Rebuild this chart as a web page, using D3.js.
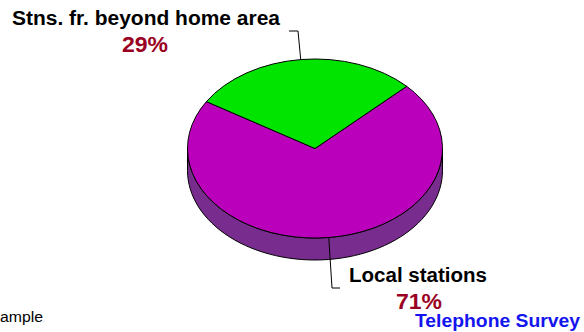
<!DOCTYPE html>
<html>
<head>
<meta charset="utf-8">
<script src="https://cdn.jsdelivr.net/npm/d3@7"></script>
<style>
  html, body { margin: 0; padding: 0; background: #fff; }
  svg { display: block; font-family: "Liberation Sans", Arial, sans-serif; }
</style>
</head>
<body>
<svg id="chart" width="584" height="332"></svg>
<script>
// Share of listening by station origin
const categories = ["Local stations", "Stns. fr. beyond home area"];
const values = [71, 29];
const valueLabels = ["71%", "29%"];
const colors = ["#bb00bb", "#00e400"];
const sideColor = "#782d8e";

const W = 584, H = 332;
const cx = 315, cy = 148.5, rx = 127.5, ry = 89.5, depth = 22;
const rot = 46 * Math.PI / 180;

const svg = d3.select("#chart");

const pie = d3.pie().sort(null).value(d => d)
  .startAngle(rot).endAngle(rot + 2 * Math.PI);
const arcs = pie(values);

// pie angle (0 at 12 o'clock, clockwise) -> point on the ellipse
const px = (a) => cx + rx * Math.sin(a);
const py = (a, dy = 0) => cy - ry * Math.cos(a) + dy;

// front wall: the part of each slice facing the viewer (between 3 and 9 o'clock)
const frontLo = Math.PI / 2, frontHi = 3 * Math.PI / 2;
const sideG = svg.append("g");
arcs.forEach((d, i) => {
  for (let k = -1; k <= 1; k++) {
    const lo = Math.max(d.startAngle, frontLo + k * 2 * Math.PI);
    const hi = Math.min(d.endAngle, frontHi + k * 2 * Math.PI);
    if (hi <= lo) continue;
    const n = 60;
    const pts = d3.range(n + 1).map(j => lo + (hi - lo) * j / n);
    const p = d3.path();
    p.moveTo(px(pts[0]), py(pts[0]));
    pts.forEach(a => p.lineTo(px(a), py(a)));
    for (let j = n; j >= 0; j--) p.lineTo(px(pts[j]), py(pts[j], depth));
    p.closePath();
    sideG.append("path").attr("d", p.toString())
      .attr("fill", sideColor).attr("stroke", "#000").attr("stroke-width", 1)
      .attr("stroke-linejoin", "round");
  }
});

// top surface
const arc = d3.arc().innerRadius(0).outerRadius(rx);
svg.append("g")
  .attr("transform", `translate(${cx},${cy}) scale(1,${ry / rx})`)
  .selectAll("path").data(arcs).join("path")
  .attr("d", arc)
  .attr("fill", (d, i) => colors[i])
  .attr("stroke", "#000").attr("stroke-width", 1)
  .attr("vector-effect", "non-scaling-stroke")
  .attr("stroke-linejoin", "round");

// leader lines
const mid = d => (d.startAngle + d.endAngle) / 2;
const lineG = svg.append("g").attr("fill", "none").attr("stroke", "#000").attr("stroke-width", 1);
{
  const a = mid(arcs[1]);
  lineG.append("path").attr("d", d3.line()([[px(a) - 0.5, py(a)], [298, 31], [289, 31]]));
}
{
  const a = mid(arcs[0]);
  lineG.append("path").attr("d", d3.line()([[px(a), py(a)], [332, 288], [340, 288]]));
}

// category and value labels
const labels = svg.append("g").attr("font-weight", "bold").attr("text-anchor", "middle");
function label(x, y, size, len, fill, str) {
  labels.append("text").attr("x", x).attr("y", y).attr("font-size", size)
    .attr("textLength", len).attr("lengthAdjust", "spacingAndGlyphs")
    .attr("fill", fill).text(str);
}
label(146, 25, 19.5, 268, "#000", categories[1]);
label(145, 52, 22.5, 46, "#990022", valueLabels[1]);
label(418, 282, 19.5, 138, "#000", categories[0]);
label(419, 309, 22.5, 46, "#990022", valueLabels[0]);

// footer notes
svg.append("text").attr("x", 580).attr("y", 327).attr("text-anchor", "end")
  .attr("font-weight", "bold").attr("font-size", 18).attr("fill", "#1414ee")
  .attr("textLength", 165).attr("lengthAdjust", "spacingAndGlyphs")
  .text("Telephone Survey");
svg.append("text").attr("x", 0).attr("y", 322)
  .attr("font-size", 15.5).attr("fill", "#000")
  .attr("textLength", 43).attr("lengthAdjust", "spacingAndGlyphs")
  .text("ample");
</script>
</body>
</html>
